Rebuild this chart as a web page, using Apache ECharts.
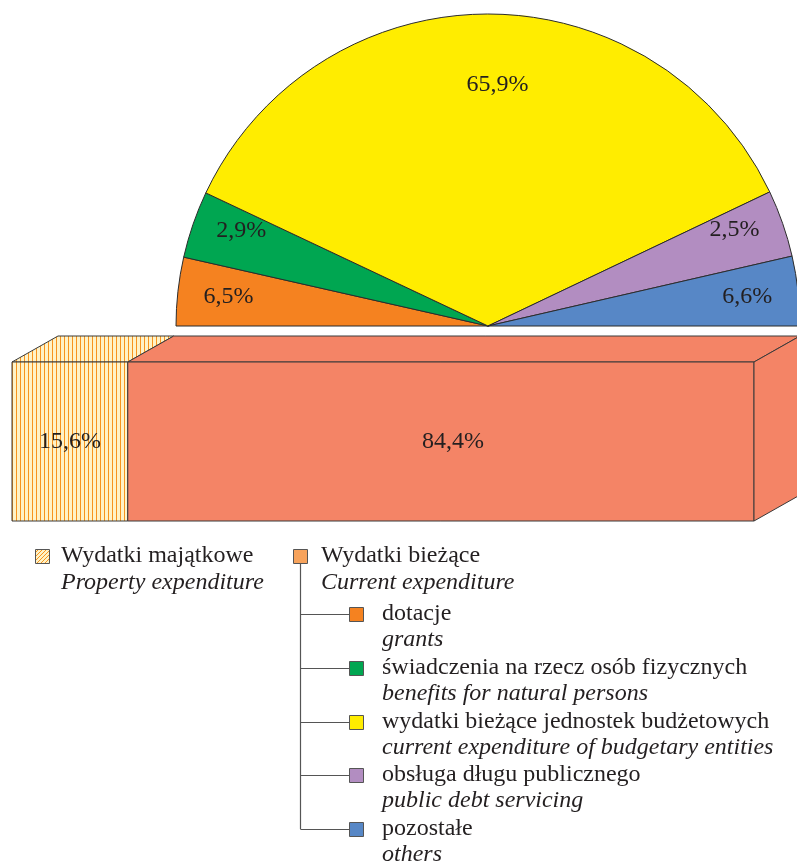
<!DOCTYPE html>
<html>
  <head>
    <meta charset="utf-8">
    <script src="https://cdn.jsdelivr.net/npm/echarts@6/dist/echarts.min.js"></script>
    <style>
      html, body { margin: 0; padding: 0; background: #fff; }
    </style>
  </head>
  <body>
    <div id="main" style="width: 797px;height:863px;"></div>
    <script type="text/javascript">
        // half pie: structure of current expenditure (sums to 84,4)
        var pieNames = ['dotacje', 'świadczenia na rzecz osób fizycznych', 'wydatki bieżące jednostek budżetowych', 'obsługa długu publicznego', 'pozostałe'];
        var pieNamesEn = ['grants', 'benefits for natural persons', 'current expenditure of budgetary entities', 'public debt servicing', 'others'];
        var pieValues = [6.5, 2.9, 65.9, 2.5, 6.6];
        var pieColors = ['#F58220', '#00A651', '#FFED00', '#B28DC1', '#5787C6'];

        // 3D bar: property vs current expenditure
        var barNames = ['Wydatki majątkowe', 'Wydatki bieżące'];
        var barNamesEn = ['Property expenditure', 'Current expenditure'];
        var barValues = [15.6, 84.4];

        var salmon = '#F48466';
        var textColor = '#231F20';
        var font = 'Liberation Serif';
        var fontSize = 24;

        function pct(v) {
            return String(v).replace('.', ',') + '%';
        }

        // stripes for the hatched block / legend icon
        function makeHatch(diagonal) {
            var c = document.createElement('canvas');
            c.width = 4; c.height = 4;
            var ctx = c.getContext('2d');
            ctx.fillStyle = '#FFF2C6';
            ctx.fillRect(0, 0, 4, 4);
            ctx.strokeStyle = '#F7941D';
            ctx.lineWidth = 1;
            ctx.beginPath();
            if (diagonal) {
                ctx.moveTo(0, 4); ctx.lineTo(4, 0);
            } else {
                ctx.moveTo(0.5, 0); ctx.lineTo(0.5, 4);
            }
            ctx.stroke();
            return { image: c, repeat: 'repeat' };
        }
        var hatch = makeHatch(false);
        var hatchIcon = makeHatch(true);

        // stacked start/end for the bar
        var barData = [];
        var acc = 0;
        for (var i = 0; i < barValues.length; i++) {
            barData.push([acc, acc + barValues[i], 0]);
            acc += barValues[i];
        }

        var depthX = 46, depthY = 26;

        var myChart = echarts.init(document.getElementById('main'));

        // legend drawn as graphic elements
        var graphics = [];
        function addText(x, y, txt, italic) {
            graphics.push({
                type: 'text', x: x, y: y, silent: true,
                style: {
                    text: txt, x: 0, y: 0, fill: textColor,
                    font: (italic ? 'italic ' : '') + fontSize + 'px "' + font + '"',
                    verticalAlign: 'middle', align: 'left'
                }
            });
        }
        function addSquare(x, y, fill) {
            graphics.push({
                type: 'rect', silent: true,
                shape: { x: x, y: y - 7, width: 14, height: 14 },
                style: { fill: fill, stroke: '#555', lineWidth: 1 }
            });
        }
        function addLine(x1, y1, x2, y2) {
            graphics.push({
                type: 'line', silent: true,
                shape: { x1: x1, y1: y1, x2: x2, y2: y2 },
                style: { stroke: '#555', lineWidth: 1.2 }
            });
        }

        addSquare(35.5, 556.5, hatchIcon);
        addText(61, 556, barNames[0], false);
        addText(61, 583, barNamesEn[0], true);
        addSquare(293.5, 556.5, '#F7A35C');
        addText(321, 556, barNames[1], false);
        addText(321, 583, barNamesEn[1], true);

        var rowY0 = 614, rowStep = 53.8;
        addLine(300.5, 563, 300.5, rowY0 + rowStep * (pieNames.length - 1));
        for (var k = 0; k < pieNames.length; k++) {
            var ry = Math.round(rowY0 + rowStep * k) + 0.5;
            addLine(300.5, ry, 349, ry);
            addSquare(349.5, ry, pieColors[k]);
            addText(382, ry - 1, pieNames[k], false);
            addText(382, ry + 25, pieNamesEn[k], true);
        }

        var pieData = pieValues.map(function (v, i) {
            return { name: pieNames[i], value: v, itemStyle: { color: pieColors[i] } };
        });

        // minAngle widens the two thin slices like in the original drawing
        var pieCommon = {
            type: 'pie',
            silent: true,
            center: [488, 326],
            startAngle: 180,
            endAngle: 0,
            clockwise: true,
            minAngle: 12.5,
            labelLine: { show: false }
        };

        var option = {
            animation: false,
            textStyle: { fontFamily: font },
            grid: {
                left: 12,
                right: 43,
                top: 362,
                bottom: 342
            },
            xAxis: {
                type: 'value',
                min: 0,
                max: 100,
                show: false
            },
            yAxis: {
                type: 'category',
                data: ['total'],
                show: false
            },
            graphic: graphics,
            series: [
                Object.assign({}, pieCommon, {
                    radius: [0, 312],
                    data: pieData,
                    itemStyle: { borderColor: '#2b2b2b', borderWidth: 1 },
                    label: { show: false }
                }),
                Object.assign({}, pieCommon, {
                    // transparent copy: only places the labels near the rim
                    radius: [204, 312],
                    data: pieValues.map(function (v, i) {
                        return { name: pieNames[i], value: v };
                    }),
                    itemStyle: { color: 'rgba(0,0,0,0)', borderWidth: 0 },
                    label: {
                        show: true,
                        position: 'inside',
                        color: textColor,
                        fontFamily: font,
                        fontSize: fontSize,
                        formatter: function (p) { return pct(p.value); }
                    },
                    labelLayout: function (p) {
                        var v = pieValues[p.dataIndex];
                        if (v > 50) return { dx: 10, dy: 20 };
                        if (v < 3) return { dy: -10 };
                        return {};
                    }
                }),
                {
                    type: 'custom',
                    silent: true,
                    encode: { x: [0, 1], y: 2 },
                    data: barData,
                    renderItem: function (params, api) {
                        var idx = params.dataIndex;
                        var a = api.coord([api.value(0), 0]);
                        var b = api.coord([api.value(1), 0]);
                        var h = api.size([0, 1])[1];
                        var x0 = a[0], x1 = b[0];
                        var yTop = a[1] - h / 2, yBot = a[1] + h / 2;
                        var fill = idx === 0 ? hatch : salmon;
                        var edge = { stroke: '#3a3a3a', lineWidth: 1 };
                        var children = [
                            {
                                type: 'polygon',
                                shape: { points: [[x0, yTop], [x1, yTop], [x1 + depthX, yTop - depthY], [x0 + depthX, yTop - depthY]] },
                                style: Object.assign({ fill: fill }, edge)
                            },
                            {
                                type: 'rect',
                                shape: { x: x0, y: yTop, width: x1 - x0, height: yBot - yTop },
                                style: Object.assign({ fill: fill }, edge)
                            }
                        ];
                        if (idx === barData.length - 1) {
                            children.push({
                                type: 'polygon',
                                shape: { points: [[x1, yTop], [x1 + depthX, yTop - depthY], [x1 + depthX, yBot - depthY], [x1, yBot]] },
                                style: Object.assign({ fill: fill }, edge)
                            });
                        }
                        children.push({
                            type: 'text',
                            style: {
                                text: pct(barValues[idx]),
                                x: (x0 + x1) / 2 + (idx === 0 ? 0 : 12),
                                y: (yTop + yBot) / 2,
                                align: 'center',
                                verticalAlign: 'middle',
                                fill: textColor,
                                font: fontSize + 'px "' + font + '"'
                            }
                        });
                        return { type: 'group', children: children };
                    }
                }
            ]
        };
        myChart.setOption(option);
    </script>
  </body>
</html>
